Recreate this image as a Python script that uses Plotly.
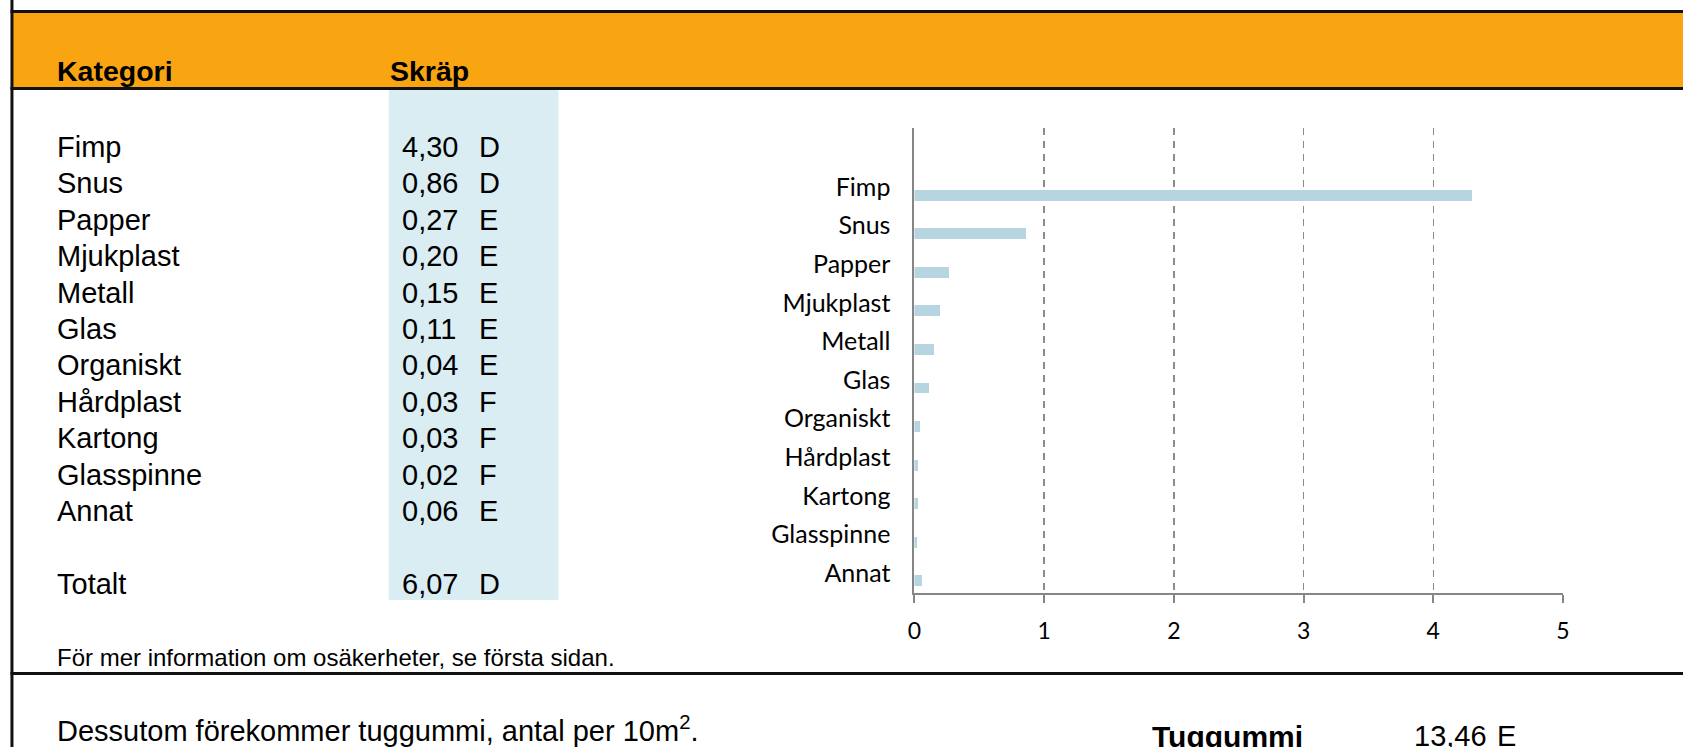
import plotly.graph_objects as go

# ---------------- data ----------------
categories = ["Fimp", "Snus", "Papper", "Mjukplast", "Metall", "Glas",
              "Organiskt", "Hårdplast", "Kartong", "Glasspinne", "Annat"]
values = [4.30, 0.86, 0.27, 0.20, 0.15, 0.11, 0.04, 0.03, 0.03, 0.02, 0.06]
value_labels = ["4,30", "0,86", "0,27", "0,20", "0,15", "0,11", "0,04",
                "0,03", "0,03", "0,02", "0,06"]
grades = ["D", "D", "E", "E", "E", "E", "E", "F", "F", "F", "E"]
total_label = "6,07"
total_grade = "D"
x_ticks = [0, 1, 2, 3, 4, 5]
gum_value = "13,46"
gum_grade = "E"

W, H = 1690, 747
ARIAL = "Liberation Sans, Arial, sans-serif"
CAL = "Lato, Carlito, Calibri, sans-serif"


def px(x):
    return x / W


def py(y):
    return 1 - y / H


positions = list(range(len(categories)))

fig = go.Figure()
fig.add_trace(go.Bar(
    x=values, y=positions, orientation="h",
    width=0.285, offset=0.065,
    marker=dict(color="#B7D5E0", line=dict(width=0)),
    hoverinfo="skip",
))

shapes = []
# light-blue value column
shapes.append(dict(type="rect", xref="paper", yref="paper", layer="below",
                   x0=px(385), x1=px(556), y0=py(600), y1=py(90),
                   fillcolor="#DAEDF3", line=dict(width=0)))
# orange header band
shapes.append(dict(type="rect", xref="paper", yref="paper", layer="below",
                   x0=px(5), x1=1, y0=py(89), y1=py(12),
                   fillcolor="#F9A512", line=dict(width=0)))
# black rules
for yy in (11.5, 88.5, 673.5):
    shapes.append(dict(type="line", xref="paper", yref="paper",
                       x0=px(3.5), x1=1, y0=py(yy), y1=py(yy),
                       line=dict(color="#111111", width=3)))
shapes.append(dict(type="line", xref="paper", yref="paper",
                   x0=px(5), x1=px(5), y0=0, y1=1,
                   line=dict(color="#111111", width=3)))

ann = []


def text(x, y, s, size=29, bold=False, anchor="left", font=ARIAL, color="#000000"):
    ann.append(dict(xref="paper", yref="paper", x=px(x), y=py(y),
                    xanchor=anchor, yanchor="middle", showarrow=False,
                    borderpad=0, borderwidth=0,
                    text=f"<b>{s}</b>" if bold else s,
                    font=dict(family=font, size=size, color=color)))


LX = 50
VX = 398
GX = 476

text(LX, 71, "Kategori", bold=True, size=28.5)
text(386, 71, "Skräp", bold=True, size=28.5)

row0, step = 147, 36.4
for i, cat in enumerate(categories):
    y = row0 + i * step
    text(LX, y, cat)
    text(VX, y, value_labels[i])
    text(GX, y, grades[i])

y_tot = row0 + 12 * step
text(LX, y_tot, "Totalt")
text(VX, y_tot, total_label)
text(GX, y_tot, total_grade)

text(LX, 657, "För mer information om osäkerheter, se första sidan.", size=24)
text(LX, 729, "Dessutom förekommer tuggummi, antal per 10m<sup>2</sup>.", size=29)
text(1155, 736, "Tuggummi", bold=True, size=30)
text(1419, 736, gum_value)
text(1502, 736, gum_grade)

fig.update_layout(
    width=W, height=H,
    margin=dict(l=0, r=0, t=0, b=0),
    paper_bgcolor="white", plot_bgcolor="rgba(0,0,0,0)",
    showlegend=False,
    shapes=shapes, annotations=ann,
    bargap=0,
    xaxis=dict(
        domain=[px(915), px(1569)], range=[0, 5],
        tickvals=x_ticks, ticktext=[str(t) for t in x_ticks],
        showgrid=True, gridcolor="#8C8C8C", gridwidth=1.5, griddash="7px,6px",
        showline=True, linecolor="#868686", linewidth=2,
        ticks="outside", ticklen=8, tickwidth=2, tickcolor="#868686",
        zeroline=False, ticklabelstandoff=8,
        tickfont=dict(family=CAL, size=23, color="#000000"),
        fixedrange=True,
    ),
    yaxis=dict(
        domain=[py(593), py(128)], range=[10.52, -1.53],
        tickvals=positions, ticktext=categories,
        showgrid=False, zeroline=False,
        showline=True, linecolor="#868686", linewidth=2,
        ticks="", ticklabelstandoff=17,
        tickfont=dict(family=CAL, size=25, color="#000000"),
        fixedrange=True,
    ),
)

fig.write_html("out.html",
               config={"displayModeBar": False, "staticPlot": True},
               post_script=("document.body.style.margin='0';"
                            "document.body.style.overflow='hidden';"
                            "document.documentElement.style.overflow='hidden';"))
